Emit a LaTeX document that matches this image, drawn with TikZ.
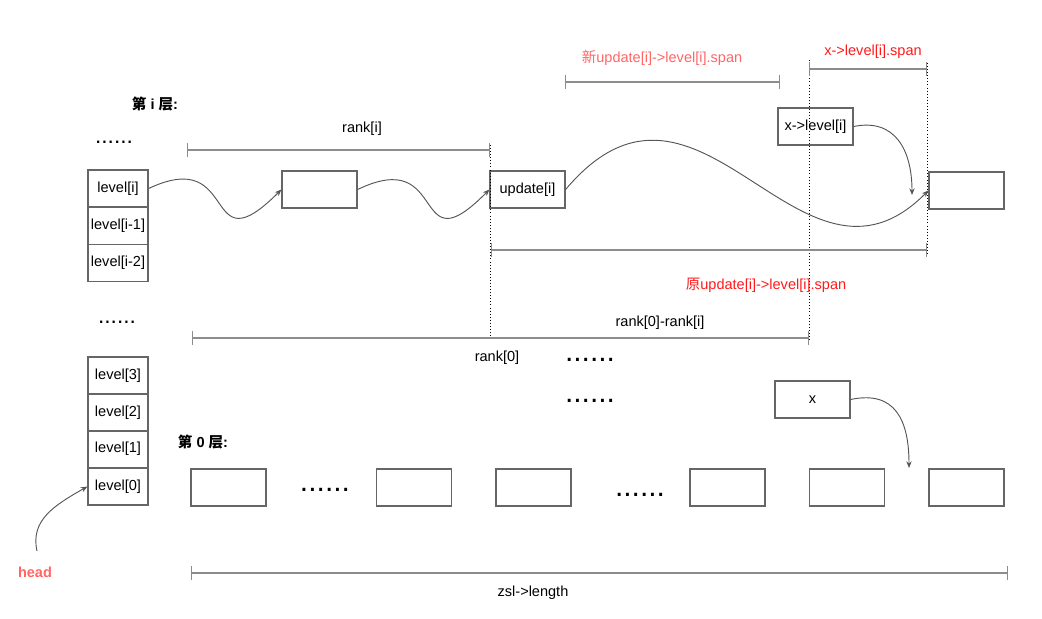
\documentclass[tikz,border=0pt]{standalone}
\usepackage{fontspec}
\setmainfont{Liberation Sans}
\newfontfamily\cjk{Noto Sans CJK SC}
\usetikzlibrary{arrows.meta}
\definecolor{boxgray}{HTML}{666666}
\definecolor{linegray}{HTML}{8C8C8C}
\definecolor{curvegray}{HTML}{555555}
\definecolor{salmon}{HTML}{FF6666}
\definecolor{brightred}{HTML}{FF1A1A}
\tikzset{
  txt/.style={font=\fontsize{10.9}{13}\selectfont, inner sep=0pt},
  cell/.style={draw=boxgray, line width=0.9pt, minimum width=56.25pt, minimum height=27.75pt, inner sep=0pt, font=\fontsize{10.9}{13}\selectfont},
  stackcell/.style={cell, minimum width=45pt},
  link/.style={draw=curvegray, line width=0.7pt, -{Stealth[length=5pt,width=4pt]}},
  dim/.style={draw=linegray, line width=1pt, {Bar[width=10pt,line width=1pt]}-{Bar[width=10pt,line width=1pt]}},
  guide/.style={draw=black, line width=0.7pt, dash pattern=on 0.7pt off 1.6pt},
  dotsthin/.style={font=\fontsize{17}{17}\selectfont, inner sep=0pt},
  dotsbold/.style={font=\fontsize{22.5}{22}\selectfont, inner sep=0pt},
}
\begin{document}
\begin{tikzpicture}[x=0.75pt, y=-0.75pt]
\useasboundingbox (0,0) rectangle (1042,618);

% labels
\node[txt, font=\fontsize{10.9}{13}\selectfont\bfseries] (li) at (155,104) {{\cjk\bfseries 第} i {\cjk\bfseries 层}:};
\node[txt, font=\fontsize{10.9}{13}\selectfont\bfseries] (l0) at (203,442) {{\cjk\bfseries 第} 0 {\cjk\bfseries 层}:};
\node[dotsthin] (d1) at (114,142) {......};
\node[dotsthin] (d2) at (117,322) {......};
\node[dotsbold] (d3) at (590,360) {......};
\node[dotsbold] (d4) at (590,401) {......};
\node[dotsbold] (d5) at (325,490) {......};
\node[dotsbold] (d6) at (640,495) {......};

% head stacks
\node[stackcell] (lvi)  at (118,188.5) {level[i]};
\node[stackcell] (lvi1) at (118,226) {level[i-1]};
\node[stackcell] (lvi2) at (118,263) {level[i-2]};
\node[stackcell] (lv3) at (118,375.5) {level[3]};
\node[stackcell] (lv2) at (118,412.5) {level[2]};
\node[stackcell] (lv1) at (118,449) {level[1]};
\node[stackcell] (lv0) at (118,486.5) {level[0]};

% level i nodes
\node[cell] (b1)   at (319.5,189.5) {};
\node[cell] (upd)  at (527.5,189.5) {update[i]};
\node[cell] (xl)   at (815.5,126.5) {x->level[i]};
\node[cell] (last) at (966.5,190.5) {};

% level 0 nodes
\node[cell] (x)  at (812.5,399.5) {x};
\node[cell] (z1) at (228.5,487.5) {};
\node[cell] (z2) at (414,487.5) {};
\node[cell] (z3) at (533.5,487.5) {};
\node[cell] (z4) at (727.5,487.5) {};
\node[cell] (z5) at (847,487.5) {};
\node[cell] (z6) at (966.5,487.5) {};

% free ends
\coordinate (xlend) at (912,195);
\coordinate (xend) at (909,468);
\coordinate (headstart) at (37,551);

% dotted guides
\draw[guide] (490,145) -- (490,341);
\draw[guide] (809,60) -- (809,342);
\draw[guide] (927,63) -- (927,256);

% dimension lines
\draw[dim] (187,150) -- (490,150);
\node[txt] (rki) at (362,129) {rank[i]};
\draw[dim] (565,82) -- (780,82);
\node[txt, text=salmon] (nspan) at (662,58) {{\cjk 新}update[i]->level[i].span};
\draw[dim] (809,69) -- (927,69);
\node[txt, text=brightred] (xspan) at (873,52) {x->level[i].span};
\draw[dim] (491,250) -- (927,250);
\node[txt, text=brightred] (ospan) at (766,285) {{\cjk 原}update[i]->level[i].span};
\draw[dim] (192,338) -- (809,338);
\node[txt] (rdiff) at (660,323) {rank[0]-rank[i]};
\node[txt] (rk0) at (497,358) {rank[0]};
\draw[dim] (191,573) -- (1008,573);
\node[txt] (zlen) at (533,593) {zsl->length};

% head label
\node[txt, text=salmon, font=\fontsize{10.9}{13}\selectfont\bfseries] (head) at (35,572) {head};

% connectors
\draw[link] (lvi.east) .. controls (241,145) and (201,270) .. (b1.west);
\draw[link] (b1.east) .. controls (450,145) and (410,270) .. (upd.west);
\draw[link] (upd.east) .. controls (700,30) and (800,320) .. (last.west);
\draw[link] (xl.east) .. controls (895,118) and (912,150) .. (xlend);
\draw[link] (x.east) .. controls (895,390) and (909,420) .. (xend);
\draw[link] (headstart) .. controls (30,520) and (55,505) .. (lv0.west);
\end{tikzpicture}
\end{document}
